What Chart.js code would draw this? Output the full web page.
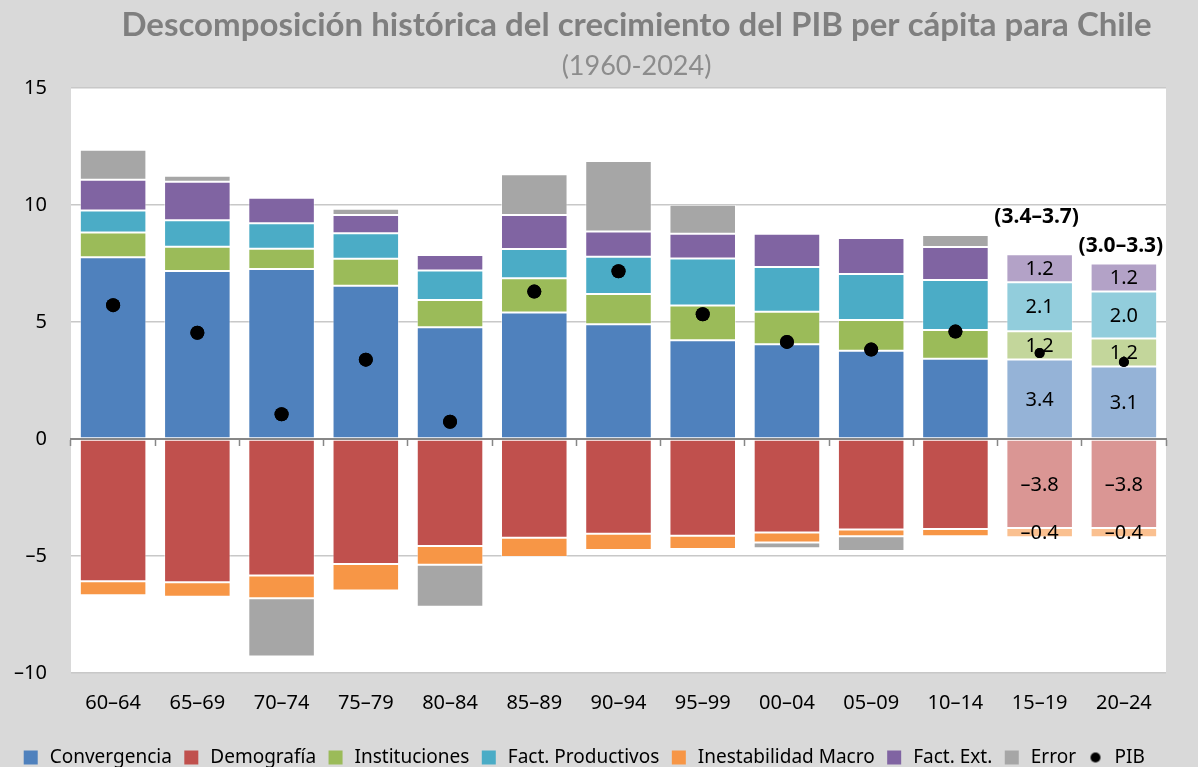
<!DOCTYPE html>
<html>
<head>
<meta charset="utf-8">
<script src="https://cdn.jsdelivr.net/npm/chart.js@4/dist/chart.umd.min.js"></script>
<style>
  html, body { margin: 0; padding: 0; background: #d9d9d9; overflow: hidden; }
</style>
</head>
<body>
<canvas id="pibChart" width="1198" height="777"></canvas>
<script>
// periodos
const categories = ["60–64", "65–69", "70–74", "75–79", "80–84", "85–89", "90–94", "95–99", "00–04", "05–09", "10–14", "15–19", "20–24"];
const projected = ["15–19", "20–24"];

// contribuciones (pp)
const convergencia = [7.77, 7.18, 7.27, 6.55, 4.78, 5.41, 4.90, 4.22, 4.05, 3.77, 3.43, 3.4, 3.1];
const demografia = [-6.08, -6.12, -5.83, -5.34, -4.57, -4.22, -4.05, -4.13, -4.00, -3.87, -3.85, -3.8, -3.8];
const instituciones = [1.05, 1.04, 0.86, 1.15, 1.16, 1.46, 1.30, 1.48, 1.39, 1.32, 1.23, 1.2, 1.2];
const factProductivos = [0.94, 1.13, 1.09, 1.09, 1.26, 1.25, 1.59, 2.01, 1.91, 1.96, 2.13, 2.1, 2.0];
const inestabilidadMacro = [-0.60, -0.62, -0.98, -1.13, -0.80, -0.82, -0.69, -0.57, -0.42, -0.29, -0.31, -0.4, -0.4];
const factExt = [1.32, 1.64, 1.09, 0.78, 0.66, 1.45, 1.08, 1.06, 1.42, 1.54, 1.42, 1.2, 1.2];
const errorRes = [1.28, 0.26, -2.48, 0.27, -1.80, 1.74, 3.01, 1.24, -0.25, -0.63, 0.51, 0, 0];
const pib = [5.72, 4.54, 1.06, 3.39, 0.74, 6.30, 7.17, 5.33, 4.15, 3.82, 4.59, 3.67, 3.29];
const rangos = ["(3.4–3.7)", "(3.0–3.3)"];

const yTicks = [-10, -5, 0, 5, 10, 15];

const FONT = "'Noto Sans', sans-serif";

// color normal / color claro para los periodos proyectados
function colorsFor(base, light) {
  return categories.map((c) => (projected.includes(c) ? light : base));
}

function fmt(v) {
  return v < 0 ? "–" + Math.abs(v).toFixed(1) : v.toFixed(1);
}

// punto chico para la leyenda de PIB
const dot = document.createElement("canvas");
dot.width = 12;
dot.height = 12;
const dctx = dot.getContext("2d");
dctx.fillStyle = "#000";
dctx.beginPath();
dctx.arc(6, 6, 5, 0, Math.PI * 2);
dctx.fill();

const plotBg = {
  id: "plotBg",
  afterLayout(chart) {
    // titulo un poco a la derecha del centro del area, como en el original
    chart.boxes.forEach((b) => {
      if (b.options && (b.options.text === chart.options.plugins.title.text || b.options.text === chart.options.plugins.subtitle.text)) {
        b.left += 18;
        b.right += 18;
      }
    });
  },
  beforeDraw(chart) {
    const { ctx, chartArea } = chart;
    ctx.save();
    ctx.fillStyle = "#d9d9d9";
    ctx.fillRect(0, 0, chart.width, chart.height);
    ctx.fillStyle = "#ffffff";
    ctx.fillRect(chartArea.left, chartArea.top, chartArea.right - chartArea.left, chartArea.bottom - chartArea.top);
    ctx.restore();
  },
};

const barLabels = {
  id: "barLabels",
  afterDatasetsDraw(chart) {
    const ctx = chart.ctx;
    const idxs = projected.map((p) => categories.indexOf(p));
    ctx.save();
    ctx.fillStyle = "#000";
    ctx.textAlign = "center";
    ctx.textBaseline = "middle";
    ctx.font = "20px " + FONT;
    let pibIndex = -1;
    chart.data.datasets.forEach((ds, di) => {
      if (ds.type === "line") { pibIndex = di; return; }
      const meta = chart.getDatasetMeta(di);
      idxs.forEach((i) => {
        const v = ds.data[i];
        if (!v) return;
        const el = meta.data[i];
        ctx.fillText(fmt(v), el.x, (el.y + el.base) / 2 + 1);
      });
    });
    // rangos sobre las barras proyectadas
    ctx.font = "bold 21px " + FONT;
    const rangeLift = [37, 17];
    idxs.forEach((i, k) => {
      let top = Infinity;
      chart.data.datasets.forEach((ds, di) => {
        if (ds.type === "line") return;
        const el = chart.getDatasetMeta(di).data[i];
        top = Math.min(top, el.y, el.base);
      });
      ctx.fillText(rangos[k], chart.getDatasetMeta(0).data[i].x - 3, top - rangeLift[k]);
    });
    ctx.restore();
    if (pibIndex >= 0) chart.getDatasetMeta(pibIndex).controller.draw();
  },
};

function barSet(label, data, base, light) {
  return {
    type: "bar",
    label,
    data,
    backgroundColor: colorsFor(base, light),
    borderColor: "rgba(255,255,255,0.45)",
    borderWidth: 1,
    borderSkipped: false,
    barPercentage: 0.79,
    categoryPercentage: 1,
    stack: "s",
  };
}

new Chart(document.getElementById("pibChart"), {
  data: {
    labels: categories,
    datasets: [
      barSet("Convergencia", convergencia, "#4f81bd", "#95b3d7"),
      barSet("Demografía", demografia, "#c0504d", "#da9694"),
      barSet("Instituciones", instituciones, "#9bbb59", "#c3d69b"),
      barSet("Fact. Productivos", factProductivos, "#4bacc6", "#92cddc"),
      barSet("Inestabilidad Macro", inestabilidadMacro, "#f79646", "#fac090"),
      barSet("Fact. Ext.", factExt, "#8064a2", "#b3a2c7"),
      barSet("Error", errorRes, "#a6a6a6", "#a6a6a6"),
      {
        type: "line",
        label: "PIB",
        data: pib,
        showLine: false,
        stack: "pib",
        order: -1,
        pointRadius: categories.map((c) => (projected.includes(c) ? 5 : 7)),
        pointBackgroundColor: "#000",
        pointBorderColor: "#000",
        pointBorderWidth: 0,
      },
    ],
  },
  options: {
    responsive: false,
    animation: false,
    layout: { padding: { left: 0, right: 32, top: 0, bottom: 0 } },
    scales: {
      x: {
        stacked: true,
        grid: { display: false, drawTicks: false },
        border: { display: false },
        ticks: { color: "#000", font: { family: FONT, size: 20 }, padding: 18, maxRotation: 0 },
        afterFit(scale) { scale.height = 65; },
      },
      x2: {
        type: "category",
        labels: categories,
        position: { y: 0 },
        offset: true,
        grid: { drawOnChartArea: false, drawTicks: true, tickLength: 6, tickWidth: 1.5, color: "#878787", offset: true },
        border: { display: true, color: "#878787", width: 2, z: 1 },
        ticks: { display: false },
      },
      y: {
        stacked: true,
        min: -10,
        max: 15,
        afterBuildTicks(scale) { scale.ticks = yTicks.map((v) => ({ value: v })); },
        afterFit(scale) { scale.width = 71; scale.paddingTop = 0; scale.paddingBottom = 0; },
        grid: { color: "#c8c8c8", lineWidth: 1.5, drawTicks: false },
        border: { display: false },
        ticks: {
          color: "#000",
          font: { family: FONT, size: 20 },
          padding: 24,
          callback: (v) => (v < 0 ? "–" + Math.abs(v) : String(v)),
        },
      },
    },
    plugins: {
      tooltip: { enabled: false },
      title: {
        display: true,
        fullSize: false,
        text: "Descomposición histórica del crecimiento del PIB per cápita para Chile",
        color: "#7f7f7f",
        font: { family: "Lato, sans-serif", size: 33, weight: "bold", lineHeight: 1.2 },
        padding: { top: 6, bottom: 0 },
      },
      subtitle: {
        display: true,
        fullSize: false,
        text: "(1960-2024)",
        color: "#8c8c8c",
        font: { family: "Lato, sans-serif", size: 27, weight: "normal", lineHeight: 1.2 },
        padding: { top: 4, bottom: 6 },
      },
      legend: {
        position: "bottom",
        labels: {
          usePointStyle: true,
          boxHeight: 14,
          color: "#000",
          padding: 10,
          font: { family: FONT, size: 19 },
          sort: (a, b) => a.datasetIndex - b.datasetIndex,
          generateLabels(chart) {
            const items = Chart.defaults.plugins.legend.labels.generateLabels(chart);
            items.forEach((it) => {
              const ds = chart.data.datasets[it.datasetIndex];
              it.pointStyle = ds.type === "line" ? dot : "rect";
              if (ds.type !== "line") {
                it.fillStyle = ds.backgroundColor[0];
                it.strokeStyle = ds.backgroundColor[0];
              }
              it.lineWidth = 0;
            });
            return items;
          },
        },
      },
    },
  },
  plugins: [plotBg, barLabels],
});
</script>
</body>
</html>
